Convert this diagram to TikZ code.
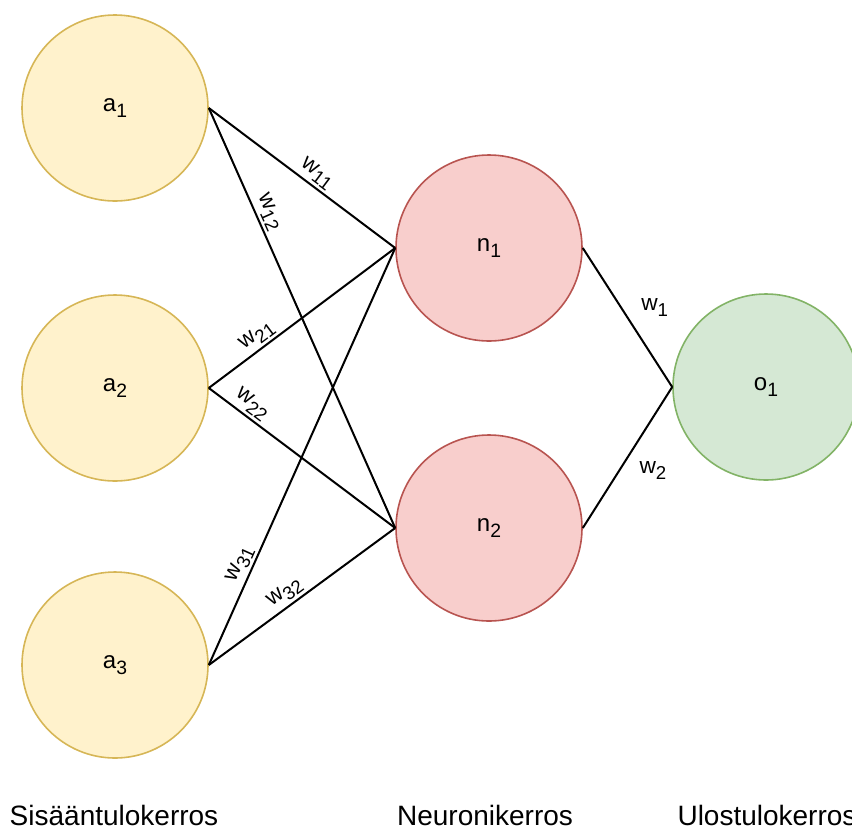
\documentclass[tikz,border=0pt]{standalone}
\usepackage{fontspec}
\setmainfont{Liberation Sans}
\definecolor{yfill}{HTML}{FFF2CC}
\definecolor{ydraw}{HTML}{D6B656}
\definecolor{rfill}{HTML}{F8CECC}
\definecolor{rdraw}{HTML}{B85450}
\definecolor{gfill}{HTML}{D5E8D4}
\definecolor{gdraw}{HTML}{82B366}
\newcommand{\lab}[2]{{\fontsize{18}{20}\selectfont #1\raisebox{-4.5pt}{\fontsize{14.5}{16}\selectfont #2}}}
\newcommand{\wlab}[2]{{\fontsize{17}{19}\selectfont #1\raisebox{-4.5pt}{\fontsize{14}{15}\selectfont #2}}}
\begin{document}
\begin{tikzpicture}[x=0.75pt,y=-0.75pt,
  neuron/.style={circle,inner sep=0pt,minimum size=139.5pt,line width=1.2pt},
  inp/.style={neuron,fill=yfill,draw=ydraw},
  hid/.style={neuron,fill=rfill,draw=rdraw},
  outp/.style={neuron,fill=gfill,draw=gdraw},
  conn/.style={line width=1.5pt,black},
  wl/.style={sloped,above,inner sep=2pt},
  layer/.style={anchor=base,font=\fontsize{21}{24}\selectfont,inner sep=0pt}]
\useasboundingbox (0,0) rectangle (852,829);
\node[inp] (a1) at (115,108) {\lab{a}{1}};
\node[inp] (a2) at (115,388) {\lab{a}{2}};
\node[inp] (a3) at (115,665) {\lab{a}{3}};
\node[hid] (n1) at (489,248) {\lab{n}{1}};
\node[hid] (n2) at (489,528) {\lab{n}{2}};
\node[outp] (o1) at (766,387) {\lab{o}{1}};
\draw[conn] (a1.east) -- (n1.west) node[wl,pos=0.54] {\wlab{w}{11}};
\draw[conn] (a1.east) -- (n2.west) node[wl,pos=0.26] {\wlab{w}{12}};
\draw[conn] (a2.east) -- (n1.west) node[wl,pos=0.30] {\wlab{w}{21}};
\draw[conn] (a2.east) -- (n2.west) node[wl,pos=0.19] {\wlab{w}{22}};
\draw[conn] (a3.east) -- (n1.west) node[wl,pos=0.23] {\wlab{w}{31}};
\draw[conn] (a3.east) -- (n2.west) node[wl,pos=0.45] {\wlab{w}{32}};
\draw[conn] (n1.east) -- (o1.west) node[pos=0.43,anchor=west,xshift=11pt] {\wlab{w}{1}};
\draw[conn] (n2.east) -- (o1.west) node[pos=0.41,anchor=west,xshift=11pt] {\wlab{w}{2}};
\node[layer] (l1) at (114,825) {Sisääntulokerros};
\node[layer] (l2) at (485,825) {Neuronikerros};
\node[layer] (l3) at (767,825) {Ulostulokerros};
\end{tikzpicture}
\end{document}
